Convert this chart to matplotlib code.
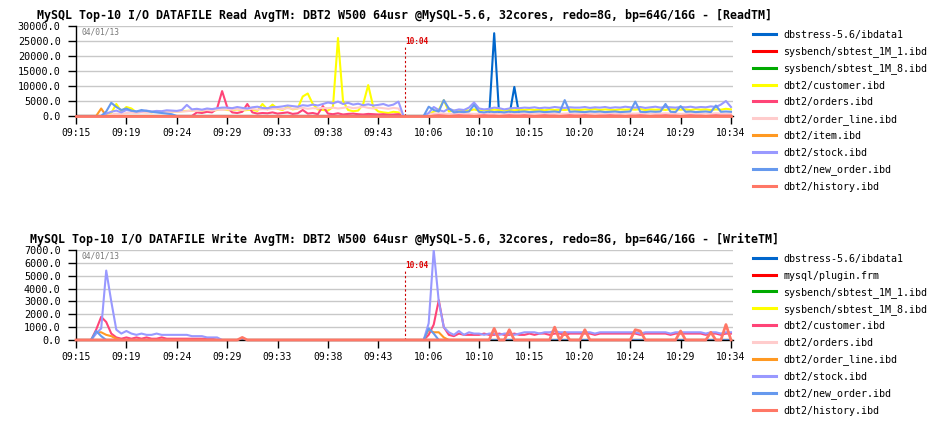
import numpy as np
import matplotlib
matplotlib.use('Agg')
import matplotlib.pyplot as plt
from matplotlib.lines import Line2D

plt.rcParams['font.family'] = ['DejaVu Sans Mono']

# ---- data (values in hundreds, one sample per ~5 px of the original chart) ----
N = 131
time_labels = ['09:15', '09:19', '09:24', '09:29', '09:33', '09:38', '09:43',
               '10:06', '10:10', '10:15', '10:20', '10:24', '10:29', '10:34']
date_label = '04/01/13'
restart_label = '10:04'
restart_idx = 65.3

read_title = ('MySQL Top-10 I/O DATAFILE Read AvgTM: DBT2 W500 64usr @MySQL-5.6, '
              '32cores, redo=8G, bp=64G/16G - [ReadTM]')
write_title = ('MySQL Top-10 I/O DATAFILE Write AvgTM: DBT2 W500 64usr @MySQL-5.6, '
               '32cores, redo=8G, bp=64G/16G - [WriteTM]')

read_files = ['dbstress-5.6/ibdata1', 'sysbench/sbtest_1M_1.ibd', 'sysbench/sbtest_1M_8.ibd',
              'dbt2/customer.ibd', 'dbt2/orders.ibd', 'dbt2/order_line.ibd', 'dbt2/item.ibd',
              'dbt2/stock.ibd', 'dbt2/new_order.ibd', 'dbt2/history.ibd']
write_files = ['dbstress-5.6/ibdata1', 'mysql/plugin.frm', 'sysbench/sbtest_1M_1.ibd',
               'sysbench/sbtest_1M_8.ibd', 'dbt2/customer.ibd', 'dbt2/orders.ibd',
               'dbt2/order_line.ibd', 'dbt2/stock.ibd', 'dbt2/new_order.ibd', 'dbt2/history.ibd']
colors = ['#0066cc', '#ff0000', '#00aa00', '#ffff00', '#ff4477', '#ffcccc',
          '#ff9922', '#9999ff', '#6699ee', '#ff7766']


def sparse(points):
    s = np.zeros(N)
    for k, v in points.items():
        s[k] = v
    return s


# Read AvgTM
ibdata1_r = sparse({83: 276, 87: 97})
sbtest1_r = sparse({})
sbtest8_r = sparse({})
customer_r = np.array([
    0, 0, 0, 0, 0, 0, 0, 10, 40, 15,
    30, 25, 12, 14, 15, 12, 16, 14, 15, 13,
    15, 16, 17, 18, 20, 18, 19, 17, 20, 22,
    20, 19, 22, 18, 20, 21, 17, 40, 22, 38,
    24, 20, 30, 22, 25, 65, 75, 40, 22, 20,
    18, 30, 260, 50, 20, 16, 18, 40, 103, 30,
    15, 12, 10, 14, 12, 0, 0, 0, 0, 0,
    5, 15, 20, 53, 15, 18, 16, 20, 18, 22,
    18, 20, 19, 21, 20, 18, 20, 19, 21, 20,
    22, 20, 21, 19, 22, 20, 21, 20, 22, 21,
    20, 22, 21, 23, 20, 22, 21, 20, 22, 21,
    22, 21, 23, 20, 22, 21, 22, 20, 23, 22,
    21, 22, 20, 23, 21, 22, 20, 22, 21, 24, 22])
orders_r = np.array([
    0, 0, 0, 0, 0, 0, 0, 0, 0, 0,
    0, 0, 0, 0, 0, 0, 0, 0, 0, 0,
    0, 0, 0, 0, 12, 10, 14, 12, 25, 83,
    30, 12, 10, 14, 40, 12, 8, 10, 9, 12,
    8, 10, 12, 7, 9, 20, 8, 10, 6, 33,
    8, 6, 9, 5, 7, 8, 6, 5, 7, 6,
    5, 6, 4, 5, 6, 0, 0, 0, 0, 0,
    3, 5, 4, 6, 4, 5, 3, 4, 5, 4,
    4, 5, 3, 4, 6, 4, 5, 4, 3, 5,
    4, 5, 4, 3, 5, 4, 4, 5, 4, 3,
    5, 4, 4, 5, 3, 4, 5, 4, 4, 5,
    4, 3, 5, 4, 4, 5, 4, 3, 5, 4,
    4, 5, 4, 4, 3, 5, 4, 4, 5, 4, 4])
order_line_r = np.array([
    0, 0, 0, 0, 0, 0, 0, 5, 8, 6,
    10, 11, 10, 12, 11, 12, 13, 12, 13, 14,
    14, 15, 16, 18, 17, 19, 20, 18, 21, 20,
    22, 21, 23, 20, 22, 24, 21, 23, 22, 24,
    25, 23, 26, 24, 25, 27, 24, 26, 25, 27,
    26, 28, 25, 27, 30, 26, 28, 31, 27, 25,
    28, 26, 24, 27, 25, 0, 0, 0, 0, 0,
    6, 8, 9, 8, 7, 8, 9, 8, 8, 7,
    8, 9, 8, 8, 7, 8, 9, 8, 8, 9,
    8, 7, 8, 9, 8, 8, 7, 8, 9, 8,
    8, 9, 8, 7, 8, 8, 9, 8, 8, 7,
    8, 8, 9, 8, 7, 8, 8, 9, 8, 8,
    7, 8, 9, 8, 8, 7, 8, 9, 8, 8, 8])
item_r = sparse({5: 25})
stock_r = np.array([
    0, 0, 0, 0, 0, 0, 8, 14, 18, 12,
    20, 17, 15, 16, 18, 15, 17, 16, 19, 18,
    17, 20, 37, 22, 24, 21, 25, 23, 26, 28,
    28, 26, 30, 27, 25, 29, 31, 27, 26, 30,
    30, 32, 35, 33, 31, 36, 34, 38, 35, 40,
    45, 42, 48, 40, 44, 38, 41, 36, 39, 35,
    37, 40, 34, 38, 48, 0, 0, 0, 0, 0,
    10, 30, 20, 15, 25, 18, 22, 20, 28, 45,
    25, 22, 24, 28, 26, 22, 25, 27, 26, 28,
    27, 29, 26, 28, 27, 30, 28, 27, 29, 28,
    28, 30, 27, 29, 28, 30, 27, 29, 28, 31,
    29, 28, 30, 27, 29, 31, 28, 30, 29, 28,
    30, 29, 31, 28, 30, 29, 32, 30, 38, 50, 30])
new_order_r = np.array([
    0, 0, 0, 0, 0, 0, 15, 44, 30, 20,
    25, 18, 15, 20, 17, 14, 12, 10, 8, 6,
    0, 0, 0, 0, 0, 0, 0, 0, 0, 0,
    0, 0, 0, 0, 0, 0, 0, 0, 0, 0,
    0, 0, 0, 0, 0, 0, 0, 0, 0, 0,
    0, 0, 0, 0, 0, 0, 0, 0, 0, 0,
    0, 0, 0, 0, 0, 0, 0, 0, 0, 0,
    31, 20, 15, 53, 25, 12, 14, 13, 15, 37,
    14, 12, 15, 13, 14, 12, 15, 13, 14, 15,
    13, 14, 15, 13, 14, 15, 13, 53, 14, 15,
    14, 13, 15, 14, 15, 13, 14, 15, 13, 14,
    15, 48, 14, 13, 15, 14, 15, 40, 14, 13,
    33, 14, 15, 13, 14, 15, 13, 35, 14, 15, 14])
history_r = sparse({})

# Write AvgTM
ibdata1_w = sparse({})
plugin_w = sparse({})
sbtest1_w = sparse({})
sbtest8_w = sparse({})
customer_w = np.array([
    0, 0, 0, 0, 8, 18, 14, 5, 2, 1,
    2, 1, 2, 1, 2, 1, 1, 2, 1, 1,
    1, 1, 1, 1, 1, 1, 1, 1, 0, 0,
    0, 0, 0, 0, 0, 0, 0, 0, 0, 0,
    0, 0, 0, 0, 0, 0, 0, 0, 0, 0,
    0, 0, 0, 0, 0, 0, 0, 0, 0, 0,
    0, 0, 0, 0, 0, 0, 0, 0, 0, 0,
    4, 12, 31, 10, 4, 3, 5, 4, 4, 4,
    4, 5, 4, 4, 5, 4, 4, 5, 4, 4,
    5, 4, 5, 5, 4, 5, 5, 4, 5, 5,
    5, 5, 5, 4, 5, 5, 5, 5, 5, 5,
    5, 5, 4, 5, 5, 5, 5, 5, 4, 5,
    5, 5, 5, 5, 5, 4, 5, 5, 4, 5, 5])
orders_w = sparse({})
order_line_w = sparse({4: 6, 5: 6, 6: 4, 7: 3, 8: 1, 70: 8, 71: 6, 72: 6, 73: 2})
stock_w = np.array([
    0, 0, 0, 0, 5, 9, 54, 30, 8, 5,
    7, 5, 4, 5, 4, 4, 5, 4, 4, 4,
    4, 4, 4, 3, 3, 3, 2, 2, 2, 0,
    0, 0, 0, 0, 0, 0, 0, 0, 0, 0,
    0, 0, 0, 0, 0, 0, 0, 0, 0, 0,
    0, 0, 0, 0, 0, 0, 0, 0, 0, 0,
    0, 0, 0, 0, 0, 0, 0, 0, 0, 0,
    13, 70, 30, 10, 6, 4, 7, 4, 6, 5,
    5, 4, 5, 5, 4, 5, 5, 4, 5, 6,
    6, 6, 5, 6, 6, 7, 6, 6, 6, 6,
    6, 6, 6, 5, 6, 6, 6, 6, 6, 6,
    6, 6, 5, 6, 6, 6, 6, 6, 5, 6,
    6, 6, 6, 6, 6, 5, 6, 6, 5, 6, 6])
new_order_w = sparse({4: 7, 5: 3, 70: 9, 71: 5})
history_w = sparse({33: 2, 83: 9, 86: 8, 95: 10, 97: 6, 101: 8, 111: 8,
                    112: 7, 120: 7, 126: 6, 129: 12})

read_series = [ibdata1_r, sbtest1_r, sbtest8_r, customer_r, orders_r,
               order_line_r, item_r, stock_r, new_order_r, history_r]
write_series = [ibdata1_w, plugin_w, sbtest1_w, sbtest8_w, customer_w,
                orders_w, order_line_w, stock_w, new_order_w, history_w]

W, H = 951, 424
fig = plt.figure(figsize=(W / 100, H / 100), dpi=100)


def px(x, y):
    return x / W, 1 - y / H


def draw_panel(top, bottom, title, series, files, ymax, ystep, legend_y0):
    l, b = px(76, bottom)
    r, t = px(733, top)
    ax = fig.add_axes([l, b, r - l, t - b])
    idx = np.arange(N)
    for i, (vals, c) in enumerate(zip(series, colors)):
        last = i == len(series) - 1
        ax.plot(idx, vals * 100, color=c, lw=2.0 if last else 1.5,
                zorder=4 if last else 2, clip_on=not last)
    ax.set_xlim(0, 130.4)
    ax.set_ylim(0, ymax)
    ax.set_yticks(np.arange(0, ymax + 1, ystep))
    ax.set_yticklabels(['%.1f' % v for v in np.arange(0, ymax + 1, ystep)])
    ax.set_xticks(np.arange(0, N, 10))
    ax.set_xticklabels(time_labels)
    ax.tick_params(axis='y', direction='out', length=6, width=1, pad=5, labelsize=7.3)
    ax.tick_params(axis='x', direction='out', length=6, width=1, pad=3, labelsize=7)
    ax.grid(axis='y', color='#c8c8c8', lw=1)
    ax.set_axisbelow(True)
    for s in ['top', 'right']:
        ax.spines[s].set_visible(False)
    ax.spines['left'].set_linewidth(1)
    ax.spines['bottom'].set_linewidth(1)
    ax.set_title(title, fontsize=8.4, fontweight='bold', pad=5)
    ax.text(0.009, 0.937, date_label, transform=ax.transAxes, fontsize=5.7,
            color='#777777', va='center', ha='left')
    ax.axvline(restart_idx, ymin=0, ymax=0.79, color='#cc0000', lw=0.8,
               ls=(0, (2, 2)), zorder=3)
    ax.text(restart_idx + 0.1, 0.83, restart_label, color='#dd0000', fontsize=5.6,
            fontweight='bold', va='center', ha='left',
            transform=ax.get_xaxis_transform())
    for i, (name, c) in enumerate(zip(files, colors)):
        y = legend_y0 + i * 16.87
        x1, yy = px(753, y)
        x2, _ = px(776, y)
        fig.add_artist(Line2D([x1, x2], [yy, yy], color=c, lw=2.2,
                              transform=fig.transFigure))
        tx, ty = px(783.5, y + 1)
        fig.text(tx, ty, name, fontsize=7.2, va='center', ha='left')
    return ax


draw_panel(26, 116, read_title, read_series, read_files, 30000, 5000, 34)
draw_panel(250, 340, write_title, write_series, write_files, 7000, 1000, 257.7)

fig.savefig('out.png', dpi=100)
